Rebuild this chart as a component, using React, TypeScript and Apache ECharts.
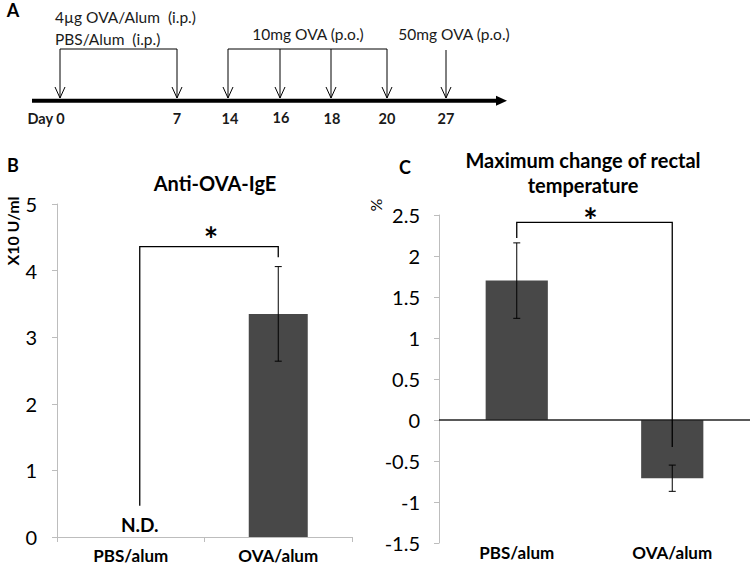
import React, { useEffect, useRef } from "react";
import * as echarts from "echarts";

// ---------- data ----------
const groups = ["PBS/alum", "OVA/alum"];
const igeMean = [0, 3.35];
const igeErr = [0, 0.71];
const igeDetected = [false, true];
const tempMean = [1.7, -0.71];
const tempErr = [0.46, 0.16];
// significance brackets: [fromCat, toCat, fromLegBottom, toLegBottom, top]
const igeBracket = [0, 1, 0.47, 4.2, 4.36];
const tempBracket = [0, 1, 2.22, -0.33, 2.41];
const days = ["Day 0", "7", "14", "16", "18", "20", "27"];
const ipLabels = ["4µg OVA/Alum  (i.p.)", "PBS/Alum  (i.p.)"];
const poLabel = "10mg OVA (p.o.)";
const challengeLabel = "50mg OVA (p.o.)";

// ---------- layout (schematic positions, not data) ----------
const FONT = "Lato";
const dayX = [60, 177, 228, 280, 331, 387, 446];
const dayLabelX = [46, 177, 230, 281, 332, 387, 446];
const LINE_Y = 100.7;
const TIP_Y = 98;
const TOP_Y = 49;

function errorBarSeries(gridIndex: number, means: number[], errs: number[]) {
  const data = means
    .map((m, i) => (errs[i] > 0 ? [i, m - errs[i], m + errs[i]] : null))
    .filter((d) => d !== null);
  return {
    type: "custom",
    xAxisIndex: gridIndex,
    yAxisIndex: gridIndex,
    silent: true,
    z: 5,
    encode: { x: 0, y: [1, 2] },
    data,
    renderItem: (params: any, api: any) => {
      const x = api.value(0);
      const lo = api.coord([x, api.value(1)]);
      const hi = api.coord([x, api.value(2)]);
      const w = 3.5;
      const style = { stroke: "#000", lineWidth: 1 };
      return {
        type: "group",
        children: [
          { type: "line", shape: { x1: hi[0], y1: hi[1], x2: lo[0], y2: lo[1] }, style },
          { type: "line", shape: { x1: hi[0] - w, y1: hi[1], x2: hi[0] + w, y2: hi[1] }, style },
          { type: "line", shape: { x1: lo[0] - w, y1: lo[1], x2: lo[0] + w, y2: lo[1] }, style },
        ],
      };
    },
  };
}

function bracketSeries(gridIndex: number, b: number[], leftShift: number, starX: number, starLift: number) {
  return {
    type: "custom",
    xAxisIndex: gridIndex,
    yAxisIndex: gridIndex,
    silent: true,
    z: 6,
    encode: { x: [0, 1], y: [2, 3, 4] },
    data: [b],
    renderItem: (params: any, api: any) => {
      const a0 = api.coord([api.value(0), api.value(2)]);
      const aT = api.coord([api.value(0), api.value(4)]);
      const b0 = api.coord([api.value(1), api.value(3)]);
      const bT = api.coord([api.value(1), api.value(4)]);
      const xa = a0[0] + leftShift;
      const style = { stroke: "#000", lineWidth: 1.3, fill: null };
      return {
        type: "group",
        children: [
          {
            type: "polyline",
            shape: { points: [[xa, a0[1]], [xa, aT[1]], [bT[0], bT[1]], [b0[0], b0[1]]] },
            style,
          },
          {
            type: "text",
            x: (xa + bT[0]) / 2 + starX,
            y: aT[1] - starLift,
            style: {
              text: "*",
              font: `bold 34px ${FONT}`,
              fill: "#000",
              textAlign: "center",
              textVerticalAlign: "middle",
            },
          },
        ],
      };
    },
  };
}

function buildTimeline(): any[] {
  const els: any[] = [];
  const stroke = { stroke: "#000", lineWidth: 1 };
  els.push({ type: "line", shape: { x1: 32, y1: LINE_Y, x2: 499, y2: LINE_Y }, style: { stroke: "#000", lineWidth: 4 } });
  els.push({ type: "polygon", shape: { points: [[496, LINE_Y - 5], [507, LINE_Y], [496, LINE_Y + 5]] }, style: { fill: "#000" } });
  dayX.forEach((x, i) => {
    const top = i === 6 ? 50 : TOP_Y;
    els.push({ type: "line", shape: { x1: x, y1: top, x2: x, y2: TIP_Y }, style: stroke });
    els.push({ type: "polyline", shape: { points: [[x - 5, TIP_Y - 11], [x, TIP_Y], [x + 5, TIP_Y - 11]] }, style: { ...stroke, fill: null } });
  });
  els.push({ type: "line", shape: { x1: dayX[0], y1: TOP_Y, x2: dayX[1], y2: TOP_Y }, style: stroke });
  els.push({ type: "line", shape: { x1: dayX[2], y1: TOP_Y, x2: dayX[5], y2: TOP_Y }, style: stroke });
  const txt = (text: string, x: number, y: number, align: string, bold = false, size = 15.5) => ({
    type: "text",
    x,
    y,
    style: {
      text,
      font: `${bold ? "bold " : ""}${size}px ${FONT}`,
      fill: "#1a1a1a",
      textAlign: align,
      textVerticalAlign: "middle",
    },
  });
  els.push(txt(ipLabels[0], 55, 17, "left"));
  els.push(txt(ipLabels[1], 55, 39, "left"));
  els.push(txt(poLabel, 308, 34, "center"));
  els.push(txt(challengeLabel, 454, 34, "center"));
  days.forEach((d, i) => els.push(txt(d, dayLabelX[i], i === 3 ? 117 : 118.5, "center", true, 14.5)));
  return els;
}

const axisGray = "#bdbdbd";

export default function App() {
  const ref = useRef<HTMLDivElement>(null);
  useEffect(() => {
    if (!ref.current) return;
    const chart = echarts.init(ref.current, undefined, { renderer: "svg" });
    const option: any = {
      animation: false,
      backgroundColor: "#fff",
      textStyle: { fontFamily: FONT },
      title: [
        {
          text: "Anti-OVA-IgE",
          left: 215,
          top: 171,
          padding: 0,
          textAlign: "center",
          textStyle: { fontFamily: FONT, fontWeight: "bold", fontSize: 20, color: "#000", lineHeight: 24 },
        },
        {
          text: "Maximum change of rectal\ntemperature",
          left: 583,
          top: 147.5,
          padding: 0,
          textAlign: "center",
          textStyle: { fontFamily: FONT, fontWeight: "bold", fontSize: 20, color: "#000", lineHeight: 25 },
        },
      ],
      grid: [
        { left: 57, top: 204, width: 295, height: 333 },
        { left: 439, top: 215, width: 334, height: 328 },
      ],
      xAxis: [
        {
          type: "category",
          gridIndex: 0,
          data: groups,
          axisLine: { lineStyle: { color: axisGray, width: 1 } },
          axisTick: { show: true, length: 5, lineStyle: { color: axisGray } },
          axisLabel: { fontFamily: FONT, fontWeight: "bold", fontSize: 17, color: "#000", margin: 10 },
        },
        {
          type: "category",
          gridIndex: 1,
          data: groups,
          axisLine: { show: false, onZero: false },
          axisTick: { show: false },
          axisLabel: { fontFamily: FONT, fontWeight: "bold", fontSize: 17, color: "#000", margin: 1 },
        },
      ],
      yAxis: [
        {
          type: "value",
          gridIndex: 0,
          min: 0,
          max: 5,
          interval: 1,
          splitLine: { show: false },
          axisLine: { show: true, lineStyle: { color: axisGray } },
          axisTick: { show: true, length: 5, lineStyle: { color: axisGray } },
          axisLabel: { fontFamily: FONT, fontSize: 20, color: "#000", margin: 20 },
        },
        {
          type: "value",
          gridIndex: 1,
          min: -1.5,
          max: 2.5,
          interval: 0.5,
          splitLine: { show: false },
          axisLine: { show: true, lineStyle: { color: axisGray } },
          axisTick: { show: true, length: 5, lineStyle: { color: axisGray } },
          axisLabel: { fontFamily: FONT, fontSize: 20, color: "#000", margin: 19 },
        },
      ],
      series: [
        {
          type: "bar",
          xAxisIndex: 0,
          yAxisIndex: 0,
          barWidth: "40%",
          itemStyle: { color: "#484848" },
          data: igeMean.map((v, i) =>
            igeDetected[i]
              ? { value: v }
              : {
                  value: v,
                  label: {
                    show: true,
                    position: "top",
                    distance: 3,
                    offset: [9, 0],
                    formatter: "N.D.",
                    fontFamily: FONT,
                    fontWeight: "bold",
                    fontSize: 19,
                    color: "#000",
                  },
                }
          ),
        },
        errorBarSeries(0, igeMean, igeErr),
        bracketSeries(0, igeBracket, 9, 2, 8),
        {
          type: "bar",
          xAxisIndex: 1,
          yAxisIndex: 1,
          barWidth: "40%",
          itemStyle: { color: "#484848" },
          data: tempMean,
          markLine: {
            silent: true,
            symbol: "none",
            label: { show: false },
            lineStyle: { color: "#222", width: 1.5, type: "solid" },
            data: [{ yAxis: 0 }],
          },
        },
        errorBarSeries(1, tempMean, tempErr),
        bracketSeries(1, tempBracket, 0, -4, 3),
      ],
      graphic: [
        ...buildTimeline(),
        { type: "text", x: 13, y: 10, style: { text: "A", font: `bold 18px ${FONT}`, fill: "#000", textAlign: "center", textVerticalAlign: "middle" } },
        { type: "text", x: 13, y: 165, style: { text: "B", font: `bold 18px ${FONT}`, fill: "#000", textAlign: "center", textVerticalAlign: "middle" } },
        { type: "text", x: 405, y: 167, style: { text: "C", font: `bold 18px ${FONT}`, fill: "#000", textAlign: "center", textVerticalAlign: "middle" } },
        {
          type: "text",
          x: 12,
          y: 231,
          rotation: Math.PI / 2,
          style: { text: "X10 U/ml", font: `bold 16px ${FONT}`, fill: "#000", textAlign: "center", textVerticalAlign: "middle" },
        },
        {
          type: "text",
          x: 375,
          y: 205,
          rotation: Math.PI / 2,
          style: { text: "%", font: `16px ${FONT}`, fill: "#000", textAlign: "center", textVerticalAlign: "middle" },
        },
      ],
    };
    chart.setOption(option);
    return () => chart.dispose();
  }, []);
  return <div ref={ref} style={{ position: "fixed", left: 0, top: 0, width: 750, height: 566 }} />;
}
